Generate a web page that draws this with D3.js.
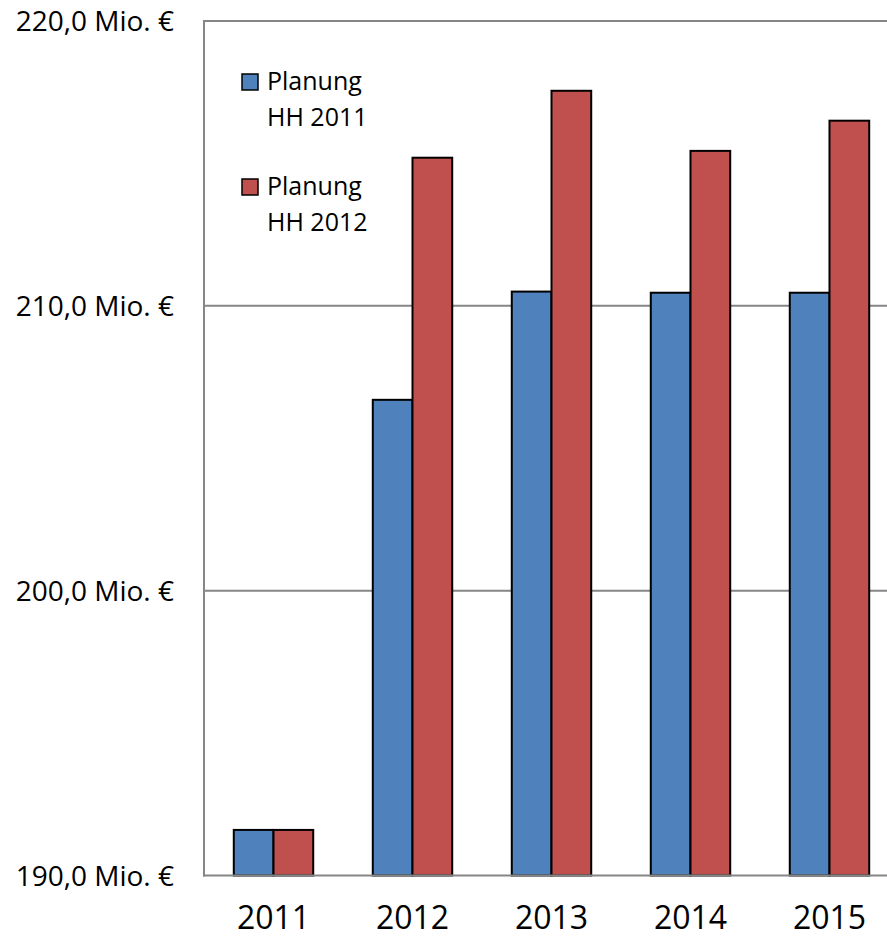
<!DOCTYPE html>
<html><head><meta charset="utf-8">
<script src="https://cdn.jsdelivr.net/npm/d3@7"></script>
<style>body{margin:0;background:#fff}svg{display:block}text{font-family:"Open Sans",sans-serif;fill:#000}</style>
</head><body>
<svg id="c" width="887" height="939"></svg>
<script>
const years = ["2011","2012","2013","2014","2015"];
const seriesNames = ["Planung HH 2011","Planung HH 2012"];
const plan2011 = [191.6, 206.7, 210.5, 210.46, 210.46];
const plan2012 = [191.6, 215.2, 217.55, 215.44, 216.5];
const yTicks = [190, 200, 210, 220];
const yTickLabels = ["190,0 Mio. €","200,0 Mio. €","210,0 Mio. €","220,0 Mio. €"];
const colors = ["#4F81BD","#C0504D"];

(function(){
const svg = d3.select("#c");
const pL = 204, pR = 899, pT = 21, pB = 875.5;
const x = d3.scaleBand().domain(years).range([pL, pR]).paddingInner(0.4285).paddingOuter(0.2143);
const x1 = d3.scaleBand().domain([0,1]).range([0, x.bandwidth()]);
const y = d3.scaleLinear().domain([190, 220]).range([pB, pT]);

// gridlines
svg.append("g").selectAll("line").data(yTicks.slice(1)).join("line")
  .attr("x1", pL).attr("x2", 887).attr("y1", d=>y(d)).attr("y2", d=>y(d))
  .attr("stroke", "#868686").attr("stroke-width", 2);

// y labels
svg.append("g").selectAll("text").data(yTicks).join("text")
  .attr("x", 174).attr("y", d=>y(d)).attr("dy", "0.36em").attr("text-anchor","end")
  .style("font-size","28px").text((d,i)=>yTickLabels[i]);

// bars
const data = years.map((yr,i)=>({yr, vals:[plan2011[i], plan2012[i]]}));
const g = svg.append("g").selectAll("g").data(data).join("g")
  .attr("transform", d=>`translate(${x(d.yr)},0)`);
g.selectAll("rect").data(d=>d.vals.map((v,k)=>({v,k}))).join("rect")
  .attr("x", d=>x1(d.k)).attr("width", x1.bandwidth())
  .attr("y", d=>y(d.v)).attr("height", d=>pB - y(d.v))
  .attr("fill", d=>colors[d.k]).attr("stroke","#000").attr("stroke-width",2);

// axes lines
svg.append("line").attr("x1", pL).attr("x2", pL).attr("y1", pT-1).attr("y2", pB+1)
  .attr("stroke","#868686").attr("stroke-width",2);
svg.append("line").attr("x1", pL-1).attr("x2", 887).attr("y1", pB).attr("y2", pB)
  .attr("stroke","#868686").attr("stroke-width",2);

// x labels
svg.append("g").selectAll("text").data(years).join("text")
  .attr("x", d=>x(d)+x.bandwidth()/2).attr("y", 929).attr("text-anchor","middle")
  .style("font-size","32px").text(d=>d);

// legend
const lg = svg.append("g").selectAll("g").data(seriesNames).join("g")
  .attr("transform", (d,i)=>`translate(242,${74 + i*105})`);
lg.append("rect").attr("width",16).attr("height",16).attr("fill",(d,i)=>colors[i])
  .attr("stroke","#000").attr("stroke-width",1.5);
lg.append("text").attr("x",25).attr("y",16).style("font-size","25px").text("Planung");
lg.append("text").attr("x",25).attr("y",52).style("font-size","25px").text(d=>d.replace("Planung ",""));
})();
</script>
</body></html>
